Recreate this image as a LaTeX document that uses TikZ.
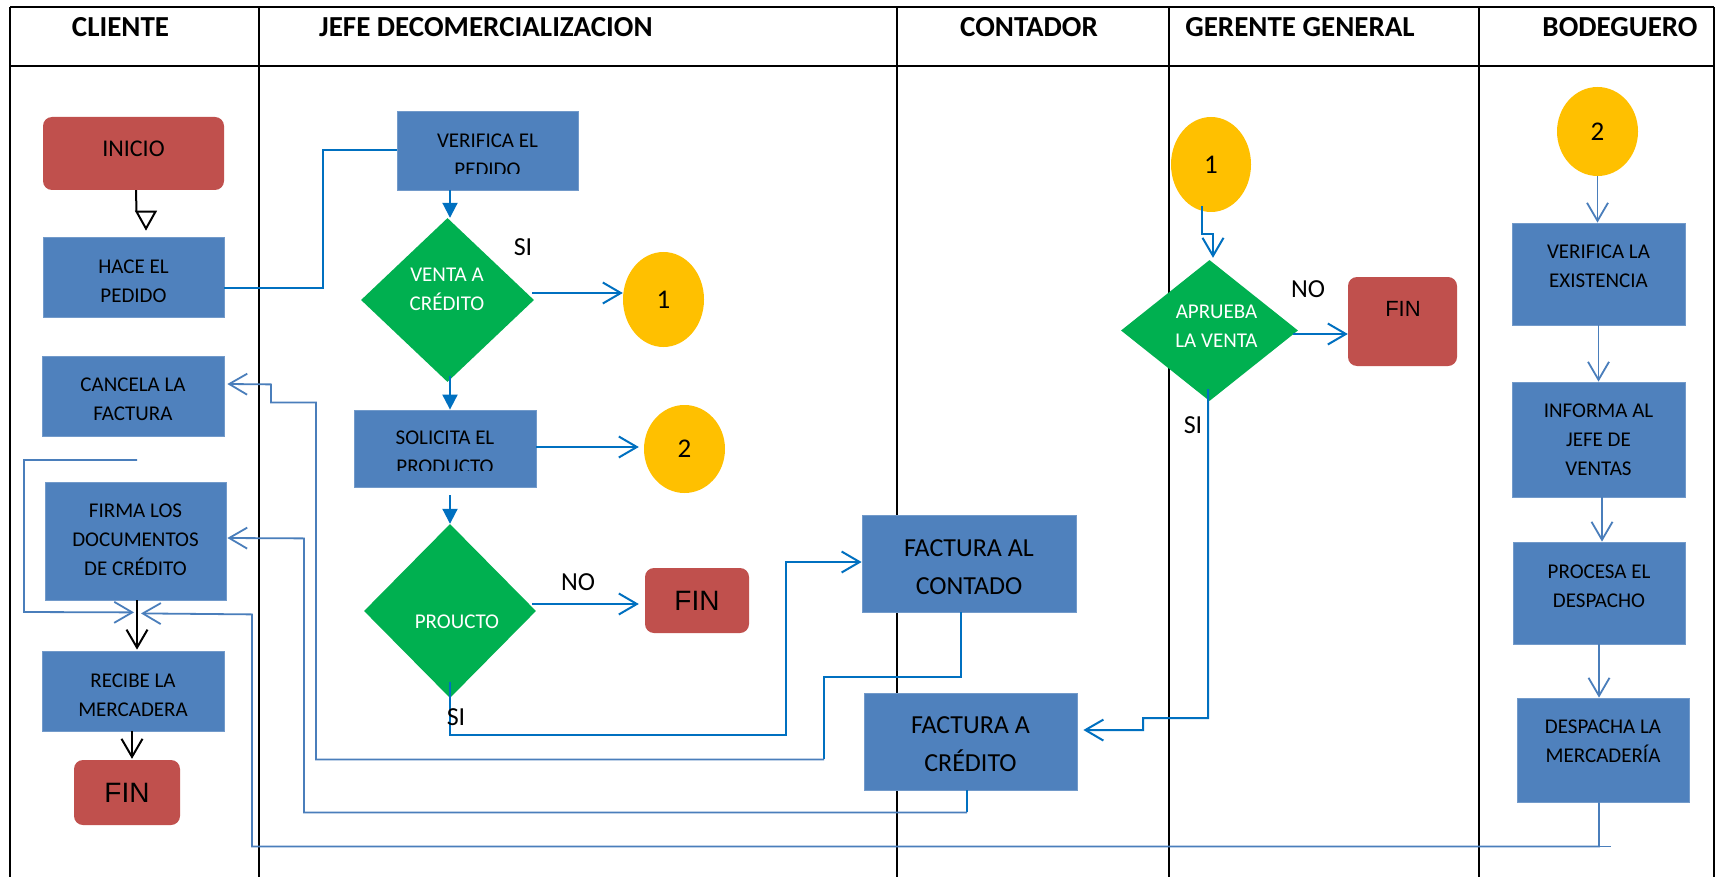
\documentclass[tikz,border=0pt]{standalone}
\usepackage{fontspec}
\setmainfont{Carlito}
\newfontfamily\arialfont{Liberation Sans}
\usetikzlibrary{shapes.geometric,arrows.meta,calc}
\definecolor{boxblue}{HTML}{4F81BD}
\definecolor{endred}{HTML}{C0504D}
\definecolor{decgreen}{HTML}{00B050}
\definecolor{linkyellow}{HTML}{FFC000}
\definecolor{flowblue}{HTML}{0070C0}
\definecolor{softblue}{HTML}{4A7EBB}

\begin{document}
\begin{tikzpicture}[x=1pt,y=-1pt,
  lane/.style={line width=2.2pt,black},
  proc/.style={rectangle,fill=boxblue,draw=boxblue!80!white,line width=0.8pt,inner sep=0},
  term/.style={rectangle,rounded corners=9pt,fill=endred,inner sep=0},
  dec/.style={diamond,fill=decgreen,inner sep=0},
  conn/.style={ellipse,fill=linkyellow,inner sep=0,font=\fontsize{27}{30}\selectfont},
  head/.style={font=\bfseries\fontsize{29}{32}\selectfont,inner sep=0},
  txt/.style={align=center,inner sep=0,font=\fontsize{21}{29}\selectfont},
  bigtxt/.style={align=center,inner sep=0,font=\fontsize{26}{38}\selectfont},
  wtxt/.style={txt,text=white},
  lbl/.style={inner sep=0,font=\fontsize{26}{30}\selectfont},
  fintxt/.style={font=\arialfont\fontsize{28}{32}\selectfont},
  darkflow/.style={draw=flowblue,line width=2pt},
  softflow/.style={draw=softblue,line width=1.8pt},
  blackflow/.style={draw=black,line width=2pt},
  fillhead/.style={-{Triangle[length=15pt,width=15pt]}},
  barb/.style={-{Straight Barb[length=18pt,width=21pt]}},
]
\useasboundingbox (0,0) rectangle (1720,877);
\fill[white] (0,0) rectangle (1720,877);

% swimlane grid
\draw[lane] (10,7) -- (1714,7);
\draw[lane] (10,66) -- (1714,66);
\foreach \lx in {10,259,897,1169,1479,1714}
  \draw[lane] (\lx,7) -- (\lx,877);

% lane titles
\node[head] (h-cliente) at (120.5,27) {CLIENTE};
\node[head,anchor=west] (h-jefe) at (319,27) {JEFE DECOMERCIALIZACION};
\node[head] (h-contador) at (1029,27) {CONTADOR};
\node[head] (h-gerente) at (1300,27) {GERENTE GENERAL};
\node[head] (h-bodega) at (1620,27) {BODEGUERO};

% ---- CLIENTE ----
\node[term,minimum width=181pt,minimum height=73pt] (inicio) at (133.5,153.5) {};
\node[txt,font=\fontsize{24}{29}\selectfont] (inicio-t) at (133.5,149) {INICIO};
\node[proc,minimum width=181pt,minimum height=80pt] (hace) at (133.5,277) {};
\node[txt] (hace-t) at (133.5,281.5) {HACE EL\\PEDIDO};
\node[proc,minimum width=182pt,minimum height=80pt] (cancela) at (133,396) {};
\node[txt] (cancela-t) at (133,399.5) {CANCELA LA\\FACTURA};
\node[proc,minimum width=181pt,minimum height=118pt] (firma) at (135.5,541) {};
\node[txt] (firma-t) at (135.5,540) {FIRMA LOS\\DOCUMENTOS\\DE CRÉDITO};
\node[proc,minimum width=182pt,minimum height=80pt] (recibe) at (133,691) {};
\node[txt] (recibe-t) at (133,695) {RECIBE LA\\MERCADERA};
\node[term,minimum width=106pt,minimum height=65pt,fintxt] (fin1) at (127,792.5) {FIN};

% ---- JEFE DE COMERCIALIZACION ----
\node[proc,minimum width=181pt,minimum height=79pt] (verifica) at (487.5,150.5) {};
\begin{scope}
  \clip (verifica.north west) rectangle ($(verifica.south east)+(0,-16.5)$);
  \node[txt] (verifica-t) at (487.5,155) {VERIFICA EL\\PEDIDO};
\end{scope}
\node[dec,minimum width=173pt,minimum height=164pt] (d1) at (447.5,300) {};
\node[wtxt] (d1-t) at (447,289) {VENTA A\\CRÉDITO};
\node[conn,minimum width=81pt,minimum height=95pt] (c1) at (663.5,299.5) {1};
\node[proc,minimum width=182pt,minimum height=77pt] (solicita) at (445,448.5) {};
\begin{scope}
  \clip (solicita.north west) rectangle ($(solicita.south east)+(0,-16.5)$);
  \node[txt] (solicita-t) at (445,452) {SOLICITA EL\\PRODUCTO};
\end{scope}
\node[conn,minimum width=81pt,minimum height=88pt] (c2) at (684.5,449) {2};
\node[dec,minimum width=172pt,minimum height=174pt] (d2) at (450,611) {};
\node[wtxt] (d2-t) at (457,622) {PROUCTO};
\node[term,minimum width=104pt,minimum height=65pt,fintxt] (fin2) at (697,600.5) {FIN};

% ---- CONTADOR ----
\node[proc,minimum width=214pt,minimum height=97pt] (contado) at (969,563.5) {};
\node[bigtxt] (contado-t) at (969,567) {FACTURA AL\\CONTADO};
\node[proc,minimum width=213pt,minimum height=97pt] (credito) at (970.5,741.5) {};
\node[bigtxt] (credito-t) at (970.5,744) {FACTURA A\\CRÉDITO};

% ---- GERENTE GENERAL ----
\node[conn,minimum width=80pt,minimum height=95pt] (c3) at (1211,164.5) {1};
\node[dec,minimum width=177pt,minimum height=141pt] (d3) at (1209.5,330.5) {};
\node[wtxt] (d3-t) at (1216.5,326.5) {APRUEBA\\LA VENTA};
\node[term,minimum width=109pt,minimum height=89pt] (fin3) at (1402.5,321.5) {};
\node[fintxt,font=\arialfont\fontsize{22}{26}\selectfont,inner sep=0] (fin3-t) at (1403,309) {FIN};

% ---- BODEGUERO ----
\node[conn,minimum width=81pt,minimum height=89pt] (c4) at (1597.5,131.5) {2};
\node[proc,minimum width=173pt,minimum height=102pt] (verexist) at (1598.5,274) {};
\node[txt] (verexist-t) at (1598.5,266.5) {VERIFICA LA\\EXISTENCIA};
\node[proc,minimum width=173pt,minimum height=115pt] (informa) at (1598.5,439.5) {};
\node[txt] (informa-t) at (1598.5,439.5) {INFORMA AL\\JEFE DE\\VENTAS};
\node[proc,minimum width=172pt,minimum height=102pt] (procesa) at (1599,593) {};
\node[txt] (procesa-t) at (1599,586.5) {PROCESA EL\\DESPACHO};
\node[proc,minimum width=172pt,minimum height=104pt] (despacha) at (1603,750) {};
\node[txt] (despacha-t) at (1603,741.5) {DESPACHA LA\\MERCADERÍA};

% ---- connectors ----
% start: offset shaft ending in a hollow triangular head
\coordinate (itip) at ($(hace.north)+(12.5,-8)$);
\draw[blackflow] ($(inicio.south)+(2.5,0)$) -- ($(itip)+(-9.5,-17)$);
\draw[blackflow,line join=miter] ($(itip)+(-9.5,-17)$) -- ($(itip)+(9.5,-17)$) -- (itip) -- cycle;
\draw[darkflow] ($(hace.east)+(0,11)$) -- ++(99,0) |- (verifica.west);
\draw[darkflow,fillhead] ($(d1.north)+(2.5,-28)$) -- ($(d1.north)+(2.5,0)$);
\draw[darkflow,barb] ($(d1.east)+(-2,-7)$) -- ($(c1.west)+(0,-6.5)$);
\draw[darkflow,fillhead] ($(d1.south)+(2.5,-6)$) -- ($(solicita.north)+(5,0)$);
\draw[darkflow,barb] ($(solicita.east)+(0,-1.5)$) -- ($(c2.west)+(-5,-2)$);
\draw[darkflow,fillhead] ($(solicita.south)+(5,8)$) -- (d2.north);
\draw[darkflow,barb] ($(d2.east)+(-4,-7)$) -- ($(fin2.west)+(-6,3.5)$);
\draw[darkflow,barb] ($(d2.south)+(0,-16)$) -- ++(0,53) -- ++(336,0)
  |- ($(contado.west)+(0,-1.5)$);

% cash invoice back to the client
\draw[darkflow] ($(contado.south)+(-8,0)$) -- ++(0,65) -- ++(-137,0) -- ++(0,82)
  coordinate (jc);
\draw[softflow,barb] (jc) -- ++(-508,0) -- ++(0,-357) -- ++(-45,0) -- ++(0,-18)
  -- ($(cancela.east)+(3,-12)$);

% credit invoice back to the client
\draw[darkflow] ($(credito.south)+(-3.5,0)$) -- ++(0,22) coordinate (jk);
\draw[softflow,barb] (jk) -- ++(-663,0) -- ++(0,-274) -- ($(firma.east)+(1,-3)$);

% approval goes to the credit invoice
\draw[darkflow,barb] ($(d3.south)+(-1.5,-12)$) -- ++(0,329) -- ++(-65,0) -- ++(0,12)
  -- ($(credito.east)+(6,-11.5)$);
\draw[darkflow,barb] ($(c3.south)+(-9,-6)$) -- ++(0,28) -- ++(11,0) -- ($(d3.north)+(3.5,-2)$);
\draw[darkflow,barb] ($(d3.east)+(-5,3.5)$) -- ($(fin3.west)+(0,12.5)$);

% warehouse sequence
\draw[softflow,barb] (c4.south) -- (c4.south |- verexist.north);
\draw[softflow,barb] (verexist.south) -- (informa.north);
\draw[softflow,barb] ($(informa.south)+(3.5,0)$) -- ($(procesa.north)+(3,0)$);
\draw[softflow,barb] (procesa.south) -- (procesa.south |- despacha.north);

% deliveries meeting above RECIBE LA MERCADERA
\coordinate (merge) at ($(firma.south)+(1.5,13)$);
\draw[softflow,barb] ($(despacha.south)+(-4,0)$) -- ++(0,44) coordinate (dc)
  -- ++(-1347,0) -- ++(0,-232) -- ($(merge)+(4,0)$);
\draw[softflow] (dc) -- ++(12,0);
\coordinate (bracket) at (137,460);
\draw[softflow,barb] (bracket) -- ++(-113,0) -- ++(0,152) -- ($(merge)+(-3,-1)$);

\draw[blackflow,barb] ($(firma.south)+(1.5,0)$) -- ($(recibe.north)+(4,-1)$);
\draw[blackflow,barb] ($(recibe.south)+(-1,0)$) -- ($(fin1.north)+(5,-1)$);

% branch labels
\node[lbl] (si1) at (523,247) {SI};
\node[lbl] (si2) at (456,717) {SI};
\node[lbl] (no1) at (578,582) {NO};
\node[lbl] (no2) at (1308,289) {NO};
\node[lbl] (si3) at (1193,425) {SI};
\end{tikzpicture}
\end{document}
